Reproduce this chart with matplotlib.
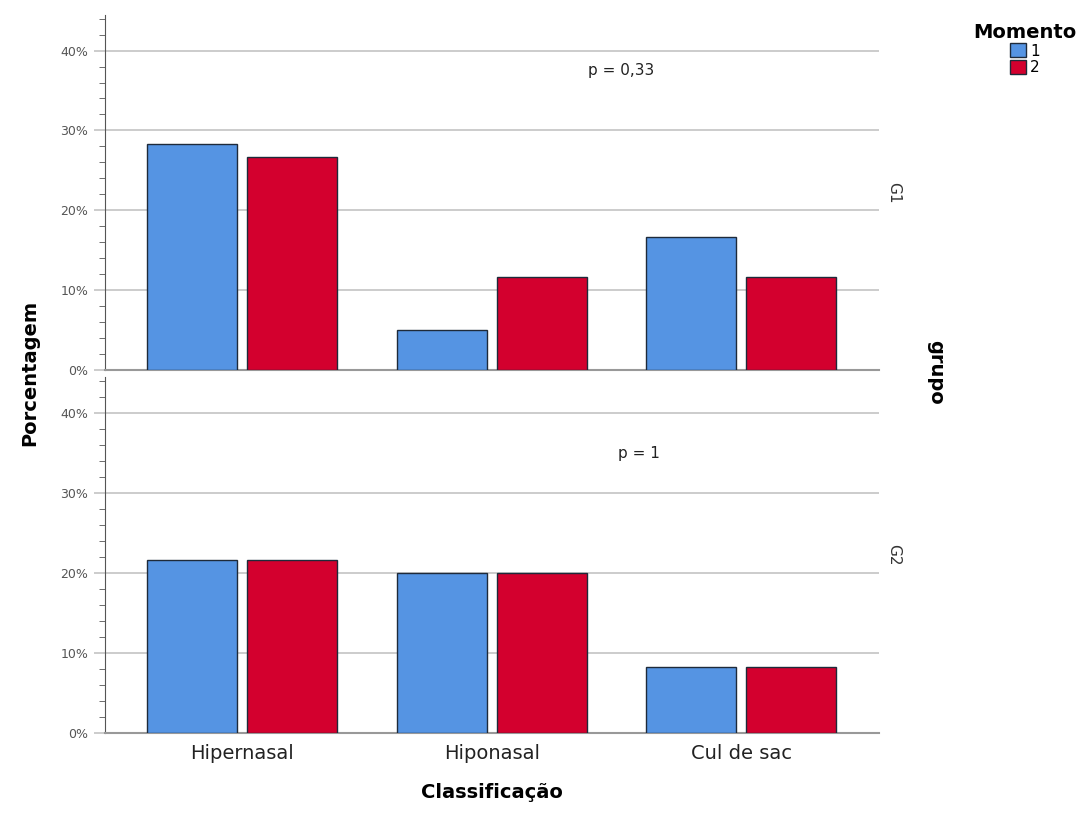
import numpy as np
import matplotlib.pyplot as plt
from matplotlib.ticker import MultipleLocator, FuncFormatter
from matplotlib.patches import Patch

# Dados (percentagem por classificação)
categorias = ["Hipernasal", "Hiponasal", "Cul de sac"]
momentos = ["1", "2"]
g1_momento1 = [28.3, 5.0, 16.7]
g1_momento2 = [26.7, 11.7, 11.7]
g2_momento1 = [21.7, 20.0, 8.3]
g2_momento2 = [21.7, 20.0, 8.3]
grupos = ["G1", "G2"]
p_valores = ["p = 0,33", "p = 1"]

cores = ["#5594E3", "#D3002E"]

fig = plt.figure(figsize=(10.88, 8.14), dpi=100)
left, width = 0.0965, 0.711
ax1 = fig.add_axes([left, 0.5455, width, 0.4365])
ax2 = fig.add_axes([left, 0.0995, width, 0.4370])

x = np.arange(len(categorias))
largura = 0.36
desloc = 0.2

dados = [(g1_momento1, g1_momento2), (g2_momento1, g2_momento2)]
p_pos = [(1.52, 37.5), (1.59, 35.0)]

for ax, (m1, m2), grupo, ptxt, (px, py) in zip([ax1, ax2], dados, grupos, p_valores, p_pos):
    ax.bar(x - desloc, m1, largura, color=cores[0], edgecolor="#1e2a3a", linewidth=1, zorder=3)
    ax.bar(x + desloc, m2, largura, color=cores[1], edgecolor="#1e2a3a", linewidth=1, zorder=3)
    ax.set_xlim(-0.55, 2.55)
    ax.set_ylim(0, 44.5)
    ax.yaxis.set_major_locator(MultipleLocator(10))
    ax.yaxis.set_minor_locator(MultipleLocator(2))
    ax.yaxis.set_major_formatter(FuncFormatter(lambda v, pos: f"{int(v)}%"))
    ax.grid(axis="y", color="#c4c4c4", linewidth=1.2, zorder=0)
    for s in ["top", "right"]:
        ax.spines[s].set_visible(False)
    ax.spines["left"].set_color("#555555")
    ax.spines["bottom"].set_color("#999999")
    ax.spines["bottom"].set_linewidth(1.5)
    ax.tick_params(axis="y", which="major", length=8, width=1.2, color="#c4c4c4",
                   labelsize=9, labelcolor="#555555", direction="out", pad=4)
    ax.tick_params(axis="y", which="minor", length=4, color="#555555", direction="out")
    ax.tick_params(axis="x", length=0)
    ax.text(px, py, ptxt, fontsize=11, ha="center", va="center", color="#222222")
    ax.text(1.01, 0.5, grupo, transform=ax.transAxes, rotation=-90, fontsize=11,
            ha="left", va="center", color="#333333")

ax1.set_xticks(x)
ax1.set_xticklabels([])
ax2.set_xticks(x)
ax2.set_xticklabels(categorias, fontsize=14, color="#222222")
ax2.tick_params(axis="x", pad=8)
ax2.set_xlabel("Classificação", fontsize=14, fontweight="bold", labelpad=14)

fig.text(0.027, 0.542, "Porcentagem", rotation=90, fontsize=14, fontweight="bold",
         ha="center", va="center")
fig.text(0.86, 0.542, "grupo", rotation=-90, fontsize=14, fontweight="bold",
         ha="center", va="center")

handles = [Patch(facecolor=c, edgecolor="#1e2a3a", label=m) for c, m in zip(cores, momentos)]
leg = fig.legend(handles=handles, title="Momento", loc="upper left",
                 bbox_to_anchor=(0.885, 0.985), frameon=False, fontsize=11,
                 title_fontproperties={"weight": "bold", "size": 14},
                 handlelength=1.0, handleheight=1.0, handletextpad=0.3,
                 labelspacing=0.1, borderpad=0.2)
leg._legend_box.align = "center"

fig.savefig("out.png", dpi=100)
